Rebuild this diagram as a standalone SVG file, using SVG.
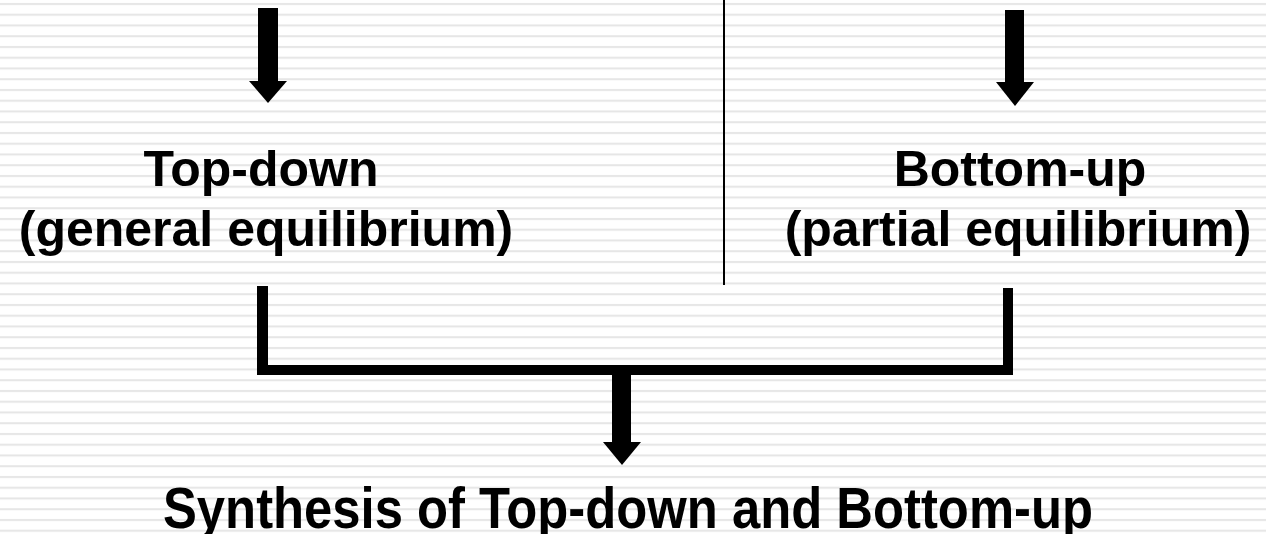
<svg xmlns="http://www.w3.org/2000/svg" width="1266" height="534" viewBox="0 0 1266 534">
  <defs>
    <!-- faint ruled-paper background -->
    <pattern id="ruled" patternUnits="userSpaceOnUse" x="0" y="0" width="20" height="10.75">
      <rect x="0" y="3" width="20" height="2" fill="#e6e6e6"/>
    </pattern>
    <style>
      .lbl { font-family: "Liberation Sans", Arial, sans-serif; font-weight: bold; fill: #000; text-anchor: middle; }
      .bar { fill: #000; }
    </style>
  </defs>

  <rect x="0" y="0" width="1266" height="534" fill="#ffffff"/>
  <rect x="0" y="0" width="1266" height="534" fill="url(#ruled)"/>

  <!-- divider between the two approaches -->
  <rect x="723" y="0" width="2" height="285" fill="#000"/>

  <g id="connectors">
    <!-- arrow into Top-down -->
    <rect class="bar" x="258" y="8" width="20" height="74"/>
    <polygon class="bar" points="249,81 287,81 268,103"/>
    <!-- arrow into Bottom-up -->
    <rect class="bar" x="1005" y="10" width="19" height="73"/>
    <polygon class="bar" points="996,82 1034,82 1015,106"/>
    <!-- bracket joining both approaches -->
    <rect class="bar" x="257" y="286" width="11" height="89"/>
    <rect class="bar" x="1003" y="288" width="10" height="87"/>
    <rect class="bar" x="257" y="365" width="756" height="10"/>
    <!-- arrow into synthesis -->
    <rect class="bar" x="612" y="374" width="19" height="69"/>
    <polygon class="bar" points="603,442 641,442 622,465"/>
  </g>

  <g id="top-down">
    <text class="lbl" x="261" y="186" font-size="50">Top-down</text>
    <text class="lbl" x="266" y="246" font-size="50">(general equilibrium)</text>
  </g>

  <g id="bottom-up">
    <text class="lbl" x="1020" y="186" font-size="50">Bottom-up</text>
    <text class="lbl" x="1018" y="246" font-size="50">(partial equilibrium)</text>
  </g>

  <g id="synthesis">
    <text class="lbl" x="628" y="528" font-size="57" textLength="930" lengthAdjust="spacingAndGlyphs">Synthesis of Top-down and Bottom-up</text>
  </g>
</svg>
